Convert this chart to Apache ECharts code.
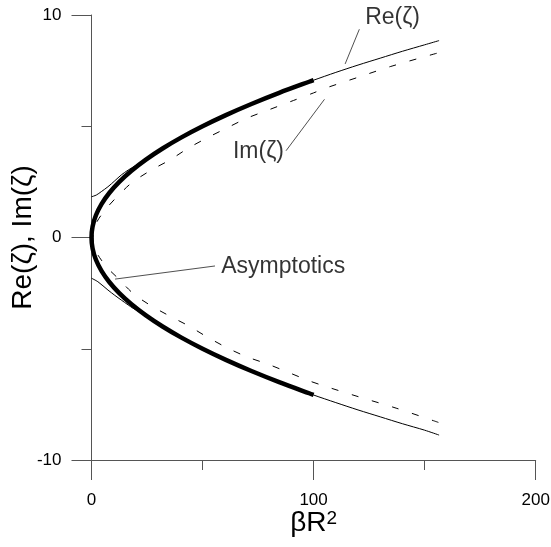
<!DOCTYPE html>
<html>
<head>
<meta charset="utf-8">
<script src="https://cdn.jsdelivr.net/npm/echarts@6/dist/echarts.min.js"></script>
<style>
  html, body { margin: 0; padding: 0; background: #fff; }
  #chart { width: 551px; height: 547px; }
</style>
</head>
<body>
<div id="chart"></div>
<script>
// asymptotics (thick), lower end -> vertex -> upper end
var asymX = [100, 98, 84.5, 72, 60.5, 50, 40.5, 32, 24.5, 18, 12.5, 8, 4.5, 2, 0.5, 0, 0.5, 2, 4.5, 8, 12.5, 18, 24.5, 32, 40.5, 50, 60.5, 72, 84.5, 98, 100];
var asymY = [-7.07, -7, -6.5, -6, -5.5, -5, -4.5, -4, -3.5, -3, -2.5, -2, -1.5, -1, -0.5, 0, 0.5, 1, 1.5, 2, 2.5, 3, 3.5, 4, 4.5, 5, 5.5, 6, 6.5, 7, 7.07];

// Re(zeta), upper branch (thin solid)
var reUpX = [0, 2.2, 4.4, 7.4, 10.5, 13.4, 16.5, 19.5, 25, 30, 40, 50, 60, 70, 80, 90, 100, 110, 120, 130, 140, 150, 156.5];
var reUpY = [1.83, 1.91, 2.06, 2.28, 2.55, 2.81, 3.03, 3.21, 3.54, 3.87, 4.47, 5.0, 5.48, 5.92, 6.32, 6.71, 7.07, 7.42, 7.75, 8.06, 8.37, 8.66, 8.85];
// Re(zeta), lower branch
var reLoX = [0, 2.9, 7.4, 10.5, 13.4, 16.5, 18.7, 25, 30, 40, 50, 60, 70, 80, 90, 100, 110, 120, 130, 140, 150, 156.5];
var reLoY = [-1.83, -1.99, -2.36, -2.6, -2.81, -3.03, -3.18, -3.54, -3.87, -4.47, -5.0, -5.48, -5.92, -6.32, -6.71, -7.08, -7.42, -7.75, -8.06, -8.37, -8.66, -8.88];

// Im(zeta) (dashed), lower end -> vertex -> upper end
var imX = [156.2, 137.5, 120, 105, 97.7, 88.6, 79.6, 69.9, 60.9, 51.9, 43.5, 35.2, 26.2, 18.7, 11.9, 7.5, 4.4, 2.2, 1.0, 0.7, 1.0, 2.2, 4.4, 7.5, 11.5, 18, 26.9, 35.2, 43.5, 51.9, 60.9, 69.9, 79.6, 89.4, 100, 105, 120, 134.5, 156.5];
var imY = [-8.31, -7.68, -7.15, -6.68, -6.43, -6.06, -5.7, -5.36, -4.95, -4.46, -3.96, -3.53, -3.03, -2.51, -1.83, -1.4, -1.01, -0.66, -0.3, 0, 0.3, 0.66, 1.01, 1.4, 1.83, 2.45, 3.03, 3.48, 4.01, 4.47, 4.92, 5.36, 5.73, 6.1, 6.5, 6.7, 7.2, 7.68, 8.31];

// annotation texts and their leader lines
var noteText = ['Re(ζ)', 'Im(ζ)', 'Asymptotics'];
var noteX = [123.2, 63.7, 58.4];
var noteY = [9.88, 3.87, -1.3];
var leadX = [[120.6, 114.2], [104.9, 87.6], [55.6, 10.6]];
var leadY = [[9.36, 7.8], [6.21, 3.9], [-1.28, -1.87]];

var xTicks = [0, 100, 200];
var yTicks = [-10, 0, 10];

function pairs(xs, ys) {
  var out = [];
  for (var i = 0; i < xs.length; i++) out.push([xs[i], ys[i]]);
  return out;
}

var font = 'Liberation Sans, Arial, sans-serif';
var axisGrey = '#555';

var chart = echarts.init(document.getElementById('chart'), null, { renderer: 'canvas' });

var series = [{
  type: 'line', name: 'Asymptotics', data: pairs(asymX, asymY),
  smooth: 0.3, showSymbol: false, silent: true,
  lineStyle: { color: '#000', width: 4.5 }, z: 3
}, {
  type: 'line', name: 'Re upper', data: pairs(reUpX, reUpY),
  smooth: 0.3, showSymbol: false, silent: true,
  lineStyle: { color: '#000', width: 1 }, z: 2
}, {
  type: 'line', name: 'Re lower', data: pairs(reLoX, reLoY),
  smooth: 0.3, showSymbol: false, silent: true,
  lineStyle: { color: '#000', width: 1 }, z: 2
}, {
  type: 'line', name: 'Im', data: pairs(imX, imY),
  smooth: 0.3, showSymbol: false, silent: true,
  lineStyle: { color: '#000', width: 1, type: [7, 14] }, z: 2
}];

// leader lines
for (var i = 0; i < leadX.length; i++) {
  series.push({
    type: 'line', data: pairs(leadX[i], leadY[i]),
    showSymbol: false, silent: true,
    lineStyle: { color: '#222', width: 0.8 }, z: 1
  });
}

// note texts
series.push({
  type: 'scatter',
  data: noteText.map(function (t, i) { return { name: t, value: [noteX[i], noteY[i]] }; }),
  symbolSize: 0, silent: true,
  label: {
    show: true, position: 'right', distance: 0,
    formatter: '{b}', color: '#000', fontSize: 23, fontFamily: font
  }
});

var option = {
  animation: false,
  backgroundColor: '#fff',
  grid: { left: 91.5, right: 15.3, top: 15, bottom: 87, outerBoundsMode: 'none', containLabel: false },
  xAxis: {
    type: 'value', min: 0, max: 200, interval: 100,
    name: '{a|βR}{b|2}', nameLocation: 'middle', nameGap: 49, nameMoveOverlap: false,
    nameTextStyle: {
      rich: {
        a: { fontSize: 28, fontFamily: font, color: '#000' },
        b: { fontSize: 19, fontFamily: font, color: '#000', verticalAlign: 'top' }
      }
    },
    axisLine: { onZero: false, lineStyle: { color: axisGrey, width: 1 } },
    axisTick: { inside: false, length: 20, lineStyle: { color: axisGrey } },
    minorTick: { show: true, splitNumber: 2, length: 10, lineStyle: { color: axisGrey } },
    splitLine: { show: false },
    axisLabel: {
      margin: 32, color: '#000', fontSize: 17, fontFamily: font,
      formatter: function (v) { return xTicks.indexOf(v) >= 0 ? String(v) : ''; }
    }
  },
  yAxis: {
    type: 'value', min: -10, max: 10, interval: 10,
    name: 'Re(ζ), Im(ζ)', nameLocation: 'middle', nameGap: 54, nameMoveOverlap: false,
    nameTextStyle: { fontSize: 28, fontFamily: font, color: '#000' },
    axisLine: { onZero: false, lineStyle: { color: axisGrey, width: 1 } },
    axisTick: { inside: false, length: 20, lineStyle: { color: axisGrey } },
    minorTick: { show: true, splitNumber: 2, length: 10, lineStyle: { color: axisGrey } },
    splitLine: { show: false },
    axisLabel: {
      margin: 30, color: '#000', fontSize: 17, fontFamily: font,
      formatter: function (v) { return yTicks.indexOf(v) >= 0 ? String(v) : ''; }
    }
  },
  series: series
};

chart.setOption(option);
</script>
</body>
</html>
